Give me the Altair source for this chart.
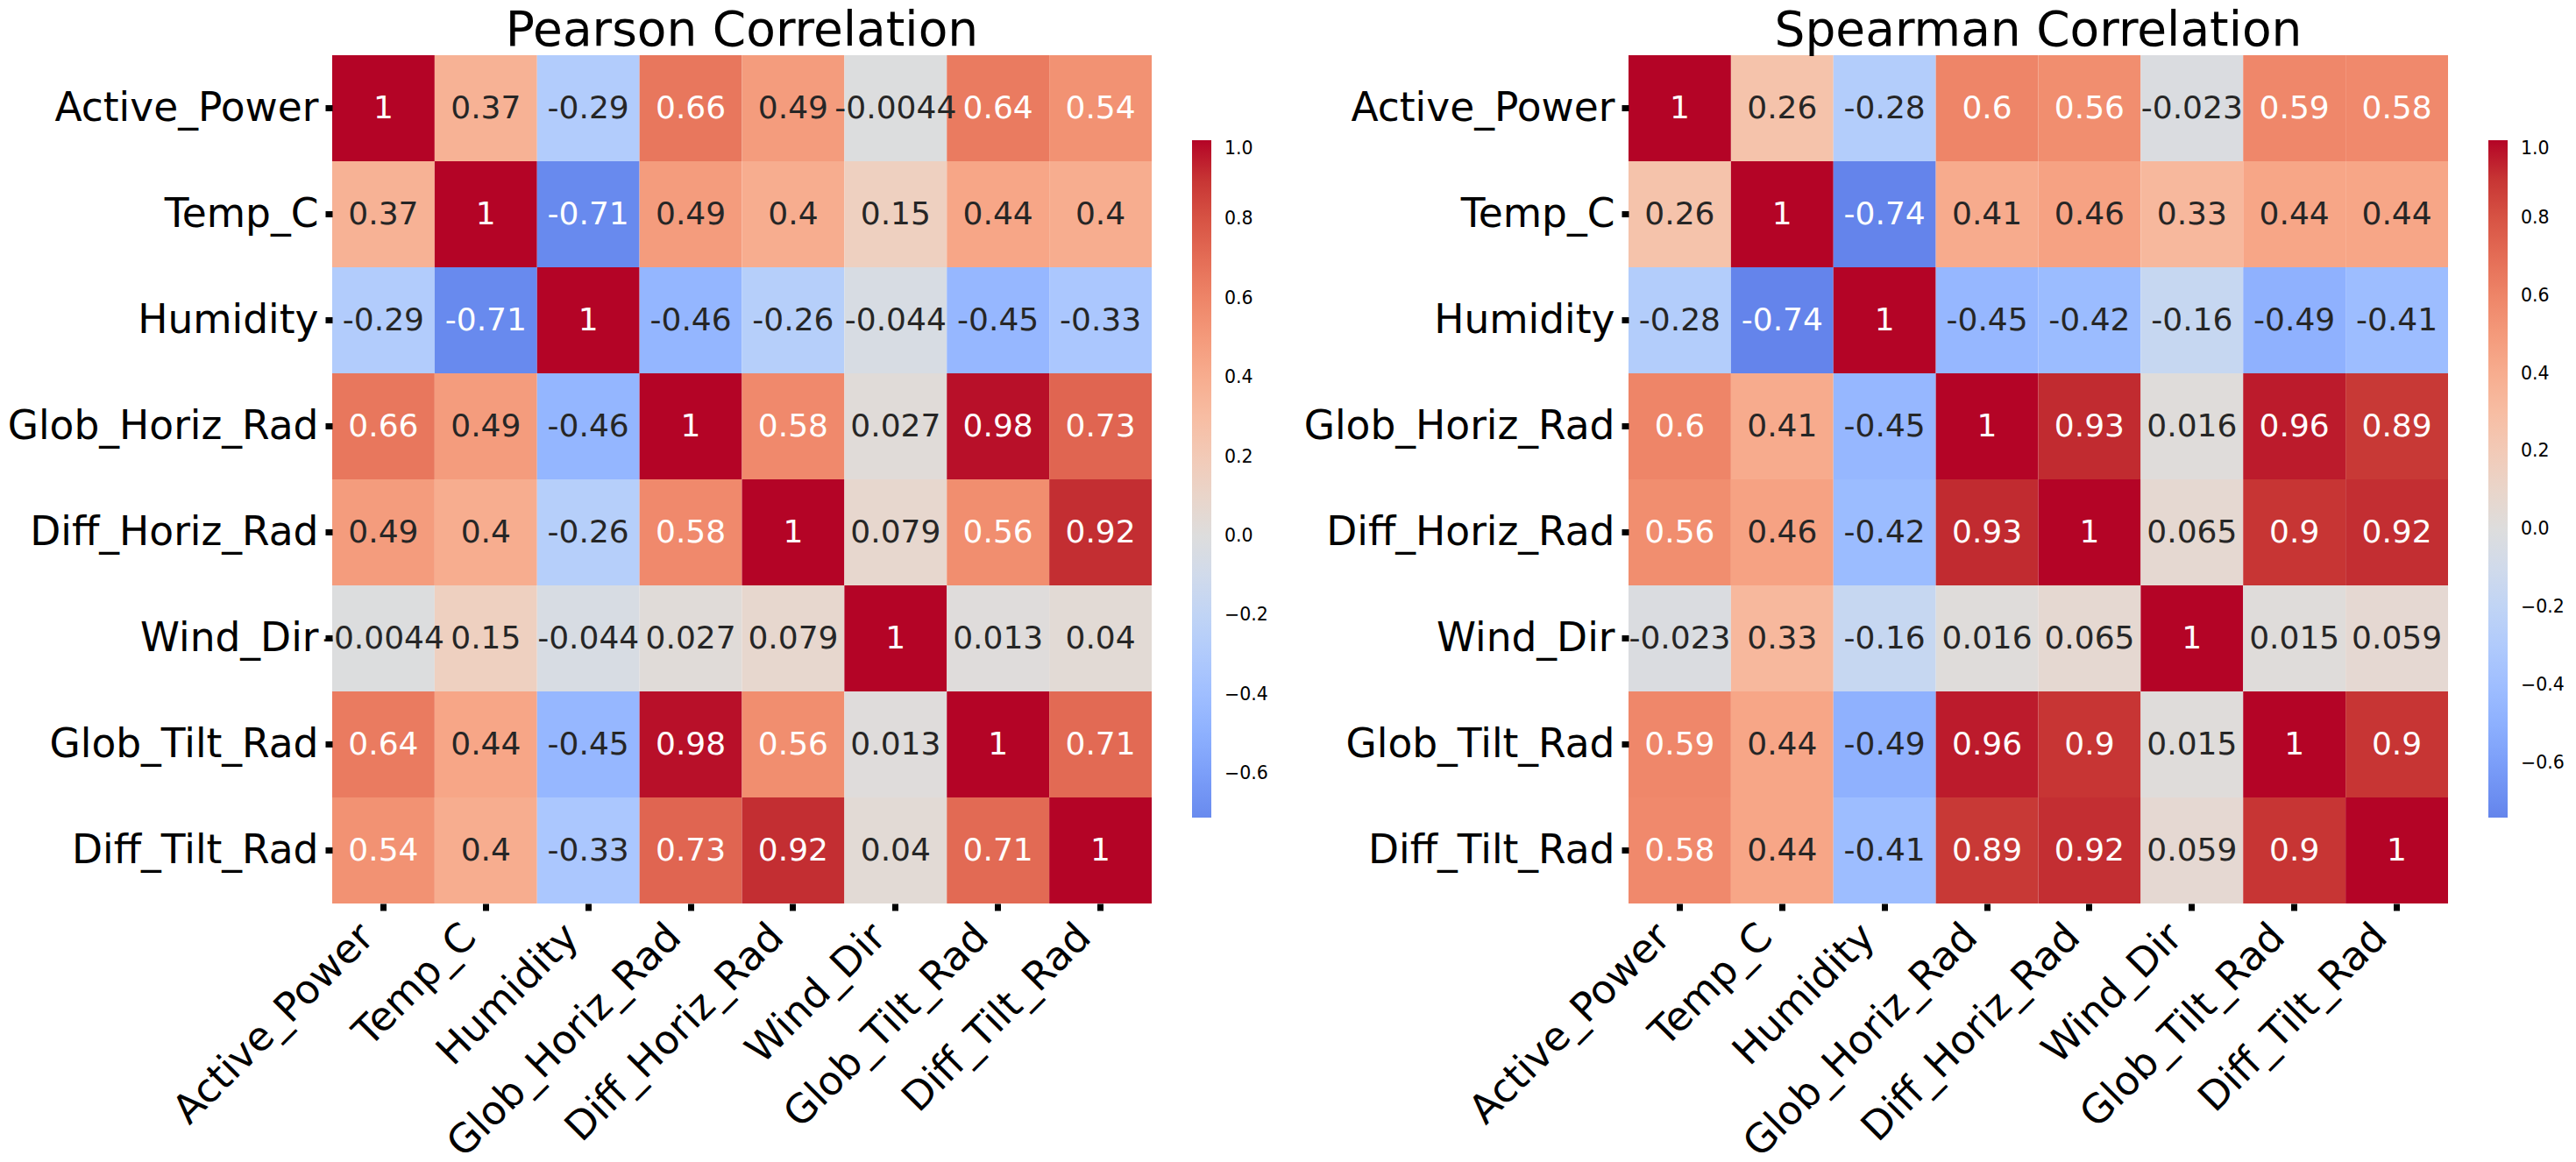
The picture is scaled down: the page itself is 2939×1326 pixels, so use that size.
import altair as alt
import pandas as pd

variables = ["Active_Power", "Temp_C", "Humidity", "Glob_Horiz_Rad",
             "Diff_Horiz_Rad", "Wind_Dir", "Glob_Tilt_Rad", "Diff_Tilt_Rad"]

pearson_rows = [
    [1, 0.37, -0.29, 0.66, 0.49, -0.0044, 0.64, 0.54],
    [0.37, 1, -0.71, 0.49, 0.4, 0.15, 0.44, 0.4],
    [-0.29, -0.71, 1, -0.46, -0.26, -0.044, -0.45, -0.33],
    [0.66, 0.49, -0.46, 1, 0.58, 0.027, 0.98, 0.73],
    [0.49, 0.4, -0.26, 0.58, 1, 0.079, 0.56, 0.92],
    [-0.0044, 0.15, -0.044, 0.027, 0.079, 1, 0.013, 0.04],
    [0.64, 0.44, -0.45, 0.98, 0.56, 0.013, 1, 0.71],
    [0.54, 0.4, -0.33, 0.73, 0.92, 0.04, 0.71, 1],
]

spearman_rows = [
    [1, 0.26, -0.28, 0.6, 0.56, -0.023, 0.59, 0.58],
    [0.26, 1, -0.74, 0.41, 0.46, 0.33, 0.44, 0.44],
    [-0.28, -0.74, 1, -0.45, -0.42, -0.16, -0.49, -0.41],
    [0.6, 0.41, -0.45, 1, 0.93, 0.016, 0.96, 0.89],
    [0.56, 0.46, -0.42, 0.93, 1, 0.065, 0.9, 0.92],
    [-0.023, 0.33, -0.16, 0.016, 0.065, 1, 0.015, 0.059],
    [0.59, 0.44, -0.49, 0.96, 0.9, 0.015, 1, 0.9],
    [0.58, 0.44, -0.41, 0.89, 0.92, 0.059, 0.9, 1],
]

colorbar_ticks = [-0.6, -0.4, -0.2, 0.0, 0.2, 0.4, 0.6, 0.8, 1.0]

# coolwarm colormap reference colours (33 evenly spaced stops)
coolwarm_rgb = [
    (59, 76, 192), (68, 90, 204), (77, 104, 215), (87, 117, 225),
    (98, 130, 234), (108, 142, 241), (119, 154, 247), (130, 165, 251),
    (141, 176, 254), (152, 185, 255), (163, 194, 255), (174, 201, 253),
    (184, 208, 249), (194, 213, 244), (204, 217, 238), (213, 219, 230),
    (221, 221, 221), (229, 216, 209), (236, 211, 197), (241, 204, 185),
    (245, 196, 173), (247, 187, 160), (247, 177, 148), (247, 166, 135),
    (244, 154, 123), (241, 141, 111), (236, 127, 99), (229, 112, 88),
    (222, 96, 77), (213, 80, 66), (203, 62, 56), (192, 40, 47),
    (180, 4, 38),
]

FONT = "DejaVu Sans"


def hexcol(c):
    return "#%02x%02x%02x" % tuple(int(round(v)) for v in c)


def cw(t):
    n = len(coolwarm_rgb) - 1
    t = min(max(t, 0.0), 1.0)
    i = min(int(t * n), n - 1)
    f = t * n - i
    a, b = coolwarm_rgb[i], coolwarm_rgb[i + 1]
    return tuple(a[k] + (b[k] - a[k]) * f for k in range(3))


def color_scale(vmin):
    # centred at 0 with half-range 1 (seaborn center=0), cut to [vmin, 1]
    n = len(coolwarm_rgb) - 1
    dom = [vmin]
    rng = [hexcol(cw((vmin + 1) / 2))]
    for i in range(n + 1):
        v = 2 * i / n - 1
        if v > vmin + 1e-9:
            dom.append(v)
            rng.append(hexcol(coolwarm_rgb[i]))
    return alt.Scale(domain=dom, range=rng, interpolate="rgb")


def panel(rows, title):
    recs = []
    for i, rv in enumerate(variables):
        for j, cv in enumerate(variables):
            v = rows[i][j]
            recs.append({"row": rv, "col": cv, "r": v, "label": "{:.2g}".format(v)})
    df = pd.DataFrame(recs)
    vmin = min(min(r) for r in rows)

    base = alt.Chart(df).encode(
        x=alt.X("col:N", sort=variables, title=None,
                axis=alt.Axis(labelAngle=315, labelAlign="right", labelBaseline="top",
                              labelPadding=7, labelOffset=-34)),
        y=alt.Y("row:N", sort=variables, title=None),
    )
    rect = base.mark_rect().encode(
        color=alt.Color(
            "r:Q",
            scale=color_scale(vmin),
            legend=alt.Legend(
                title=None, orient="none", direction="vertical",
                legendX=981, legendY=97,
                gradientLength=773, gradientThickness=22,
                gradientStrokeWidth=0,
                values=colorbar_ticks, format=".1f",
                labelFont=FONT, labelFontSize=20.5, labelColor="black",
                labelOffset=15, labelOverlap=False, labelLimit=0,
            ),
        )
    )
    text = base.mark_text(font=FONT, fontSize=36).encode(
        text="label:N",
        color=alt.condition("datum.r >= 0.5 || datum.r <= -0.6",
                            alt.value("white"), alt.value("#262626")),
    )
    return alt.layer(rect, text).properties(
        width=935, height=968,
        title=alt.Title(title, font=FONT, fontSize=55, fontWeight="normal",
                        color="black", anchor="middle", frame="group",
                        baseline="alphabetic", offset=-44),
    )


chart = alt.hconcat(
    panel(pearson_rows, "Pearson Correlation"),
    panel(spearman_rows, "Spearman Correlation"),
    spacing=40,
).resolve_scale(color="independent").resolve_legend(color="independent").properties(
    padding=0
).configure_view(stroke=None).configure_axis(
    labelFont=FONT, labelFontSize=45.5, labelColor="black",
    tickColor="black", tickSize=8, tickWidth=7, domain=False,
    labelPadding=8, labelLimit=0, grid=False,
)

chart.save("out.html", embed_options={"renderer": "svg", "actions": False})
